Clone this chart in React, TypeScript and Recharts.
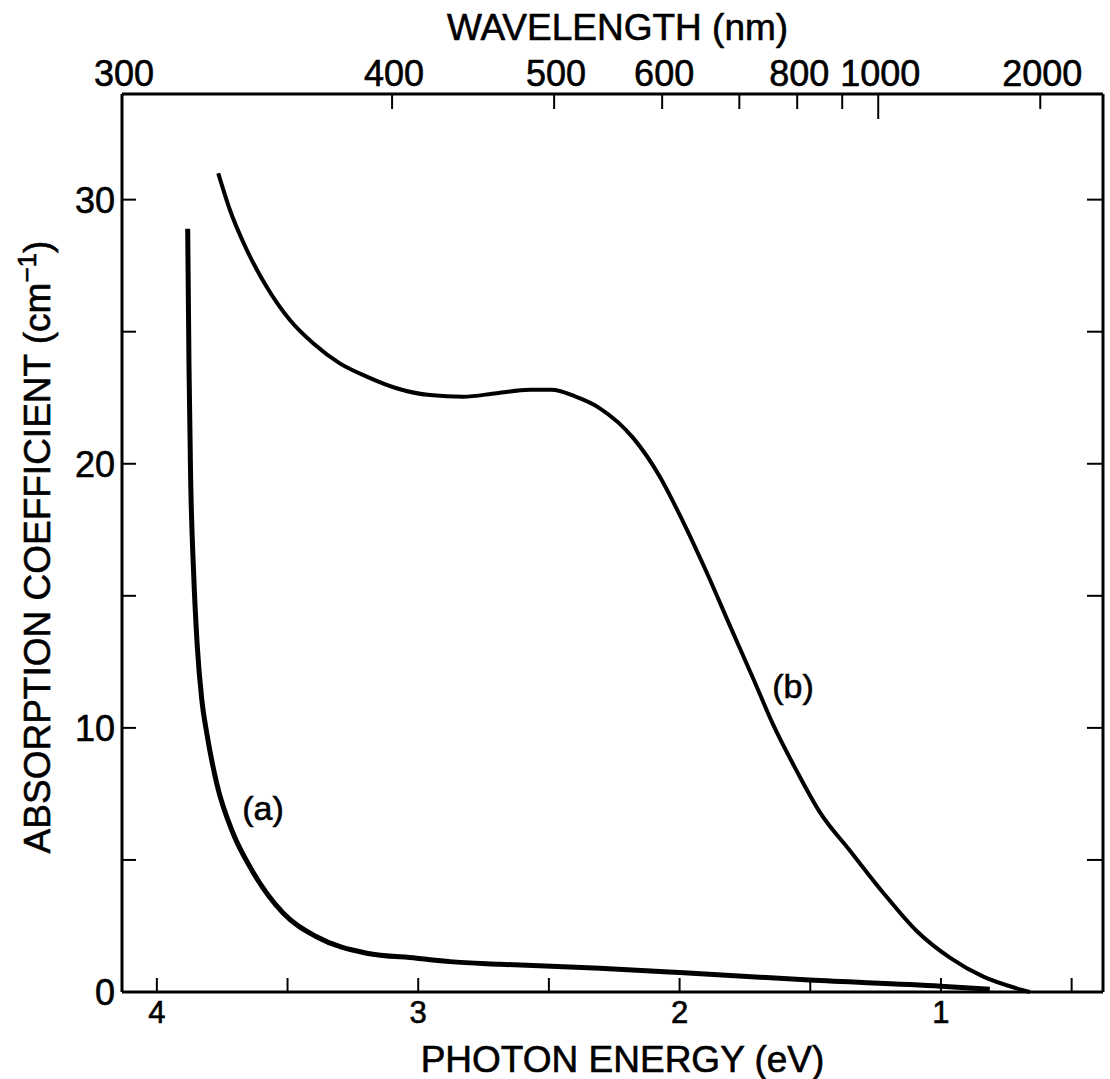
import { LineChart, Line, XAxis, YAxis, ReferenceDot } from "recharts";

// photon energy (eV) ticks along the bottom
const energyTicks = [4, 3.5, 3, 2.5, 2, 1.5, 1, 0.5];
const energyLabels = [4, 3, 2, 1];

// wavelength (nm) ticks along the top, placed at E = 1240 / lambda
const wavelengthTicks = [300, 400, 500, 600, 700, 800, 900, 1000, 2000];
const wavelengthLabels = [300, 400, 500, 600, 800, 1000, 2000];

// absorption coefficient (cm^-1)
const absTicks = [0, 5, 10, 15, 20, 25, 30];
const absLabels = [0, 10, 20, 30];

// curve (a)
const curveA = [
  { e: 3.882, v: 28.9 },
  { e: 3.877, v: 23.7 },
  { e: 3.871, v: 19.6 },
  { e: 3.859, v: 15.8 },
  { e: 3.846, v: 13.2 },
  { e: 3.828, v: 11.06 },
  { e: 3.809, v: 9.8 },
  { e: 3.771, v: 7.9 },
  { e: 3.708, v: 6.0 },
  { e: 3.644, v: 4.74 },
  { e: 3.516, v: 2.98 },
  { e: 3.389, v: 2.09 },
  { e: 3.197, v: 1.47 },
  { e: 3.006, v: 1.28 },
  { e: 2.878, v: 1.15 },
  { e: 2.687, v: 1.05 },
  { e: 2.305, v: 0.9 },
  { e: 2.0, v: 0.74 },
  { e: 1.504, v: 0.45 },
  { e: 1.001, v: 0.22 },
  { e: 0.813, v: 0.1 },
];

// curve (b)
const curveB = [
  { e: 3.765, v: 31.0 },
  { e: 3.72, v: 29.6 },
  { e: 3.656, v: 28.1 },
  { e: 3.58, v: 26.7 },
  { e: 3.491, v: 25.44 },
  { e: 3.402, v: 24.56 },
  { e: 3.3, v: 23.8 },
  { e: 3.197, v: 23.3 },
  { e: 3.083, v: 22.86 },
  { e: 2.955, v: 22.6 },
  { e: 2.828, v: 22.54 },
  { e: 2.7, v: 22.67 },
  { e: 2.573, v: 22.8 },
  { e: 2.49, v: 22.8 },
  { e: 2.4, v: 22.55 },
  { e: 2.305, v: 22.1 },
  { e: 2.177, v: 20.97 },
  { e: 2.076, v: 19.52 },
  { e: 1.986, v: 17.79 },
  { e: 1.897, v: 15.9 },
  { e: 1.808, v: 13.88 },
  { e: 1.718, v: 11.86 },
  { e: 1.642, v: 10.12 },
  { e: 1.553, v: 8.39 },
  { e: 1.463, v: 6.8 },
  { e: 1.348, v: 5.35 },
  { e: 1.221, v: 3.76 },
  { e: 1.093, v: 2.31 },
  { e: 0.966, v: 1.3 },
  { e: 0.838, v: 0.58 },
  { e: 0.711, v: 0.14 },
  { e: 0.66, v: 0.0 },
];

const curveLabels = [
  { e: 3.594, v: 6.97, text: "(a)" },
  { e: 1.566, v: 11.59, text: "(b)" },
];

const E_MIN = 0.38;
const E_MAX = 1240 / 300;
const INK = "#000";
// the scanned lettering is a little heavier than plain regular weight
const TEXT_STROKE = { stroke: INK, strokeWidth: 0.6 };

function LeftTick({ x, y, payload }: any) {
  const v = payload.value;
  return (
    <g>
      <line x1={x + 7} x2={x + 21} y1={y} y2={y} stroke={INK} strokeWidth={2} />
      {absLabels.includes(v) && (
        <text x={x} y={y} dy={13} textAnchor="end" fontSize={36} fill={INK} {...TEXT_STROKE}>
          {v}
        </text>
      )}
    </g>
  );
}

function RightTick({ x, y }: any) {
  return <line x1={x - 16} x2={x} y1={y} y2={y} stroke={INK} strokeWidth={2} />;
}

function BottomTick({ x, y, payload }: any) {
  const v = payload.value;
  return (
    <g>
      <line x1={x} x2={x} y1={y - 14} y2={y} stroke={INK} strokeWidth={2} />
      {energyLabels.includes(v) && (
        <text x={x} y={y + 31} textAnchor="middle" fontSize={31} fill={INK} {...TEXT_STROKE}>
          {v}
        </text>
      )}
    </g>
  );
}

function TopTick({ x, y, payload }: any) {
  const nm = Math.round(1240 / payload.value);
  const len = nm === 1000 ? 25 : 15;
  return (
    <g>
      <line x1={x} x2={x} y1={y} y2={y + len} stroke={INK} strokeWidth={2} />
      {wavelengthLabels.includes(nm) && (
        <text x={x + 2} y={y - 8} textAnchor="middle" fontSize={36} fill={INK} {...TEXT_STROKE}>
          {nm}
        </text>
      )}
    </g>
  );
}

function YTitle({ viewBox }: any) {
  const cx = 50;
  const cy = viewBox.y + viewBox.height / 2 + 4;
  return (
    <text
      x={cx}
      y={cy}
      transform={`rotate(-90, ${cx}, ${cy})`}
      textAnchor="middle"
      fontSize={37}
      fill={INK}
      {...TEXT_STROKE}
    >
      ABSORPTION COEFFICIENT (cm
      <tspan fontSize={26} dy={-14}>−1</tspan>
      <tspan dy={14}>)</tspan>
    </text>
  );
}

function TopTitle({ viewBox }: any) {
  return (
    <text x={viewBox.x + viewBox.width / 2 + 5} y={40} textAnchor="middle" fontSize={37} fill={INK} {...TEXT_STROKE}>
      WAVELENGTH (nm)
    </text>
  );
}

function BottomTitle({ viewBox }: any) {
  return (
    <text
      x={viewBox.x + viewBox.width / 2 + 10}
      y={1072}
      textAnchor="middle"
      fontSize={37}
      fill={INK}
      {...TEXT_STROKE}
    >
      PHOTON ENERGY (eV)
    </text>
  );
}

export default function App() {
  return (
    <div
      style={{
        position: "absolute",
        left: 0,
        top: 0,
        background: "#fff",
        fontFamily: '"Liberation Sans", Arial, Helvetica, sans-serif',
      }}
    >
      <LineChart width={1110} height={1079} margin={{ top: 0, right: 0, bottom: 0, left: 0 }}>
        <XAxis
          xAxisId="bottom"
          dataKey="e"
          type="number"
          domain={[E_MIN, E_MAX]}
          reversed
          ticks={energyTicks}
          interval={0}
          height={87}
          tickSize={0}
          tickMargin={0}
          tick={<BottomTick />}
          axisLine={{ stroke: INK, strokeWidth: 3 }}
          label={<BottomTitle />}
        />
        <XAxis
          xAxisId="top"
          orientation="top"
          dataKey="e"
          type="number"
          domain={[E_MIN, E_MAX]}
          reversed
          ticks={wavelengthTicks.map((nm) => 1240 / nm)}
          interval={0}
          height={94}
          tickSize={0}
          tickMargin={0}
          tick={<TopTick />}
          axisLine={{ stroke: INK, strokeWidth: 3 }}
          label={<TopTitle />}
        />
        <YAxis
          yAxisId="left"
          type="number"
          domain={[0, 34]}
          ticks={absTicks}
          interval={0}
          width={122}
          tickSize={0}
          tickMargin={7}
          tick={<LeftTick />}
          axisLine={{ stroke: INK, strokeWidth: 3 }}
          label={<YTitle />}
        />
        <YAxis
          yAxisId="right"
          orientation="right"
          type="number"
          domain={[0, 34]}
          ticks={absTicks.filter((t) => t > 0)}
          interval={0}
          width={7}
          tickSize={0}
          tickMargin={0}
          tick={<RightTick />}
          axisLine={{ stroke: INK, strokeWidth: 3 }}
        />
        <Line
          xAxisId="bottom"
          yAxisId="left"
          data={curveA}
          dataKey="v"
          type="monotone"
          stroke={INK}
          strokeWidth={5}
          dot={false}
          isAnimationActive={false}
        />
        {/* same domains as bottom/left, bound to top/right so those axes draw */}
        <Line
          xAxisId="top"
          yAxisId="right"
          data={curveB}
          dataKey="v"
          type="monotone"
          stroke={INK}
          strokeWidth={4}
          dot={false}
          isAnimationActive={false}
        />
        {curveLabels.map((c) => (
          <ReferenceDot
            key={c.text}
            xAxisId="bottom"
            yAxisId="left"
            x={c.e}
            y={c.v}
            r={0}
            label={{ value: c.text, position: "center", fontSize: 34, fill: INK, stroke: INK, strokeWidth: 0.6 }}
          />
        ))}
      </LineChart>
    </div>
  );
}
